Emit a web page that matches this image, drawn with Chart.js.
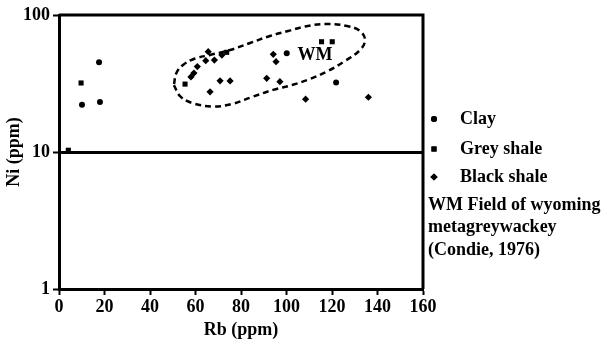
<!DOCTYPE html>
<html>
<head>
<meta charset="utf-8">
<title>Ni vs Rb</title>
<script src="https://cdn.jsdelivr.net/npm/chart.js@4.4.1/dist/chart.umd.min.js"></script>
<style>
  html, body { margin: 0; padding: 0; background: #fff; }
  #wrap { width: 604px; height: 341px; }
</style>
</head>
<body>
<div id="wrap"><canvas id="chart" width="604" height="341"></canvas></div>
<script>
// Rb (ppm) / Ni (ppm) values
const clayRb = [17.6, 10.1, 18.0, 100.1, 121.8];
const clayNi = [45.2, 22.1, 23.2, 52.5, 32.1];

const greyRb = [4.1, 9.7, 55.4, 73.7, 115.4, 120.1];
const greyNi = [10.3, 31.9, 31.3, 53.4, 63.8, 63.8];

const blackRb = [58.0, 59.3, 60.8, 64.5, 65.6, 68.3, 71.6, 70.8, 75.2, 66.4, 94.2, 95.4, 91.3, 97.1, 108.4, 136.0];
const blackNi = [35.3, 37.7, 42.0, 46.4, 54.0, 46.9, 51.0, 33.1, 33.0, 27.5, 51.6, 45.6, 34.5, 32.6, 24.3, 25.1];

// outline of the WM field (Condie, 1976), walked round clockwise from the left end
const wmRb = [50.5, 53.2, 58.5, 67.7, 76.0, 84.8, 94.1, 102.4, 110.3, 117.8, 125.7, 132.3, 134.5,
              132.3, 126.6, 116.9, 108.1, 100.7, 92.7, 84.0, 75.2, 66.4, 59.8, 54.5, 51.6, 50.5];
const wmNi = [30.8, 25.6, 22.8, 21.5, 22.4, 25.2, 28.4, 30.8, 34.1, 38.7, 46.2, 55.5, 65.7,
              76.4, 83.1, 86.0, 82.4, 76.4, 70.3, 62.5, 55.5, 51.1, 48.1, 43.2, 37.7, 30.8];
const wmLabel = { text: 'WM', rb: 112.5, ni: 51.1 };

const seriesNames = ['Clay', 'Grey shale', 'Black shale'];
const noteLines = ['WM Field of wyoming', 'metagreywackey', '(Condie, 1976)'];

const xTicks = [0, 20, 40, 60, 80, 100, 120, 140, 160];
const yTicks = [1, 10, 100];

const serif = 'Liberation Serif, Times New Roman, serif';
const textFont = { family: serif, size: 18, weight: 'bold' };

function toPoints(xs, ys) {
    return xs.map((x, i) => ({ x: x, y: ys[i] }));
}

// Draws the frame, the WM label and the side legend / note
const extrasPlugin = {
    id: 'extras',
    afterDatasetsDraw(chart) {
        const ctx = chart.ctx;
        const area = chart.chartArea;
        const xs = chart.scales.x;
        const ys = chart.scales.y;

        ctx.save();
        ctx.strokeStyle = '#000';
        ctx.lineWidth = 3;
        ctx.beginPath();
        ctx.moveTo(area.left, area.top);
        ctx.lineTo(area.right, area.top);
        ctx.lineTo(area.right, area.bottom);
        ctx.stroke();

        ctx.fillStyle = '#000';
        ctx.font = 'bold 18px ' + serif;
        ctx.textBaseline = 'middle';
        ctx.textAlign = 'center';
        ctx.fillText(wmLabel.text, xs.getPixelForValue(wmLabel.rb), ys.getPixelForValue(wmLabel.ni));

        // legend
        const styles = ['circle', 'rect', 'rectRot'];
        const radii = [3, 3.6, 3.6];
        const rowY = [119, 149, 177];
        ctx.textAlign = 'left';
        seriesNames.forEach((name, i) => {
            Chart.helpers.drawPoint(ctx, { pointStyle: styles[i], radius: radii[i], rotation: 0, borderWidth: 0 }, 434, rowY[i]);
            ctx.fill();
            ctx.fillText(name, 460, rowY[i]);
        });
        noteLines.forEach((line, i) => {
            ctx.fillText(line, 428, 205 + i * 22.5);
        });
        ctx.restore();
    }
};

const pointCommon = {
    backgroundColor: '#000',
    borderColor: '#000',
    borderWidth: 0,
    showLine: false
};

new Chart(document.getElementById('chart'), {
    type: 'scatter',
    data: {
        datasets: [
            Object.assign({ label: seriesNames[0], data: toPoints(clayRb, clayNi), pointStyle: 'circle', pointRadius: 3 }, pointCommon),
            Object.assign({ label: seriesNames[1], data: toPoints(greyRb, greyNi), pointStyle: 'rect', pointRadius: 3.6 }, pointCommon),
            Object.assign({ label: seriesNames[2], data: toPoints(blackRb, blackNi), pointStyle: 'rectRot', pointRadius: 3.6 }, pointCommon),
            {
                label: 'WM field',
                data: toPoints(wmRb, wmNi),
                showLine: true,
                borderColor: '#000',
                borderWidth: 2.5,
                borderDash: [6, 4],
                pointRadius: 0,
                tension: 0.4,
                fill: false
            }
        ]
    },
    options: {
        responsive: false,
        animation: false,
        events: [],
        layout: { padding: { top: 15, right: 181, left: 0, bottom: 0 } },
        plugins: {
            legend: { display: false },
            tooltip: { enabled: false }
        },
        scales: {
            x: {
                type: 'linear',
                min: 0,
                max: 160,
                afterBuildTicks: (scale) => { scale.ticks = xTicks.map(v => ({ value: v })); },
                afterFit: (scale) => { scale.height = 52; },
                ticks: { color: '#000', font: textFont, padding: 2, maxRotation: 0 },
                grid: { drawOnChartArea: false, tickLength: 6, tickColor: '#000', tickWidth: 2 },
                border: { color: '#000', width: 3 },
                title: { display: true, text: 'Rb (ppm)', color: '#000', font: textFont, padding: { top: 0, bottom: 0 } }
            },
            y: {
                type: 'logarithmic',
                min: 1,
                max: 100,
                afterBuildTicks: (scale) => { scale.ticks = yTicks.map(v => ({ value: v })); },
                afterFit: (scale) => { scale.width = 59; },
                ticks: { color: '#000', font: textFont, padding: 3, callback: (v) => String(v) },
                grid: {
                    drawOnChartArea: true,
                    color: (c) => (c.tick && c.tick.value === 10 ? '#000' : 'rgba(0,0,0,0)'),
                    lineWidth: 3,
                    tickLength: 6,
                    tickColor: '#000',
                    tickWidth: 2
                },
                border: { color: '#000', width: 3 },
                title: { display: true, text: 'Ni (ppm)', color: '#000', font: textFont, padding: { top: 4, bottom: 0 } }
            }
        }
    },
    plugins: [extrasPlugin]
});
</script>
</body>
</html>
